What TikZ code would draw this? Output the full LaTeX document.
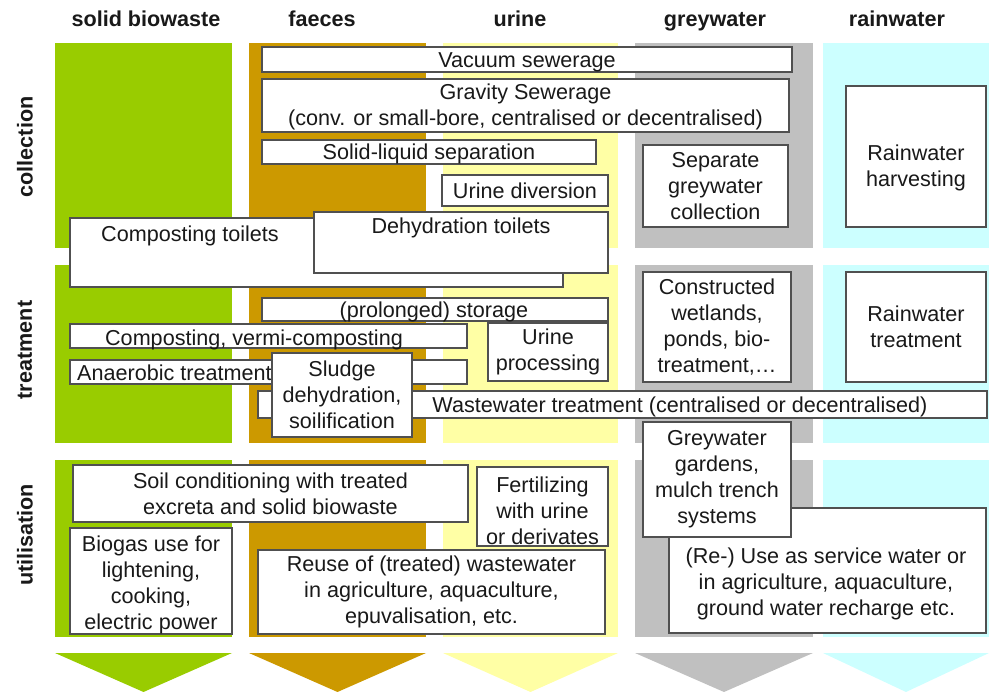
\documentclass[tikz,border=0pt]{standalone}
\usepackage{fontspec}
\setmainfont{Liberation Sans}
\definecolor{cgreen}{RGB}{153,204,0}
\definecolor{corange}{RGB}{204,153,0}
\definecolor{cyellow}{RGB}{255,255,165}
\definecolor{cgrey}{RGB}{192,192,192}
\definecolor{ccyan}{RGB}{204,255,255}
\definecolor{boxc}{RGB}{80,80,80}
\definecolor{txt}{RGB}{25,25,25}
\newcommand\bodyfont{\fontsize{21.6}{26}\selectfont}
\newcommand\headfont{\fontsize{21.6}{25}\selectfont\bfseries}
\tikzset{
  box/.style={draw=boxc, fill=white, line width=1.2pt, inner sep=0pt, align=center, font=\bodyfont, text=txt},
  oneline/.style={text height=16pt, text depth=0pt},
  txtonly/.style={inner sep=0pt, align=center, font=\bodyfont, text=txt},
  head/.style={inner sep=0pt, font=\headfont, text=txt, anchor=base},
  rowlab/.style={inner sep=0pt, font=\headfont, text=txt, rotate=90},
}
\begin{document}
\begin{tikzpicture}[x=1pt,y=-1pt]
\useasboundingbox (0,0) rectangle (989,692);
% column bands
\foreach \xa/\xb/\c in {55/232/cgreen,249/426/corange,443/618/cyellow,635/813/cgrey,823/989/ccyan}{
  \fill[\c] (\xa,43) rectangle (\xb,248);
  \fill[\c] (\xa,265) rectangle (\xb,443);
  \fill[\c] (\xa,460) rectangle (\xb,637);
  \fill[\c] (\xa,653) -- (\xb,653) -- ({(\xa+\xb)/2},692) -- cycle;
}
% headers
\node[head] (h1) at (146,27) {solid biowaste};
\node[head] (h2) at (322,27) {faeces};
\node[head] (h3) at (520,27) {urine};
\node[head] (h4) at (715,27) {greywater};
\node[head] (h5) at (897,27) {rainwater};
\node[rowlab] (r1) at (25,147) {collection};
\node[rowlab] (r2) at (25,350) {treatment};
\node[rowlab] (r3) at (25,535) {utilisation};
% collection
\node[box, oneline, minimum width=530pt, minimum height=25pt] (vac) at (527,59.5) {Vacuum sewerage};
\node[box, minimum width=527pt, minimum height=53pt] (grav) at (525.5,105.5) {};
\node[txtonly] (gravt) at (525.5,107) {Gravity Sewerage\\(conv. or small-bore, centralised or decentralised)};
\node[box, oneline, minimum width=334pt, minimum height=24pt] (sls) at (429,152) {Solid-liquid separation};
\node[box, oneline, minimum width=166pt, minimum height=31pt] (urdiv) at (525,190.5) {Urine diversion};
\node[box, minimum width=493pt, minimum height=69pt] (comptoil) at (316.5,252.5) {};
\node[txtonly, anchor=base] (comptoilt) at (190,242) {Composting toilets};
\node[box, minimum width=294pt, minimum height=61pt] (dehyd) at (461,242.5) {};
\node[txtonly, anchor=base] (dehydt) at (461,234) {Dehydration toilets};
\node[box, minimum width=145pt, minimum height=82pt] (sepgrey) at (715.5,186) {Separate\\greywater\\collection};
\node[box, minimum width=140pt, minimum height=141pt] (rainharv) at (916,156.5) {};
\node[txtonly] (rainharvt) at (916,168) {Rainwater\\harvesting};
% treatment
\node[box, minimum width=346pt, minimum height=23pt] (stor) at (435,309.5) {};
\node[txtonly, anchor=base] (stort) at (434,318) {(prolonged) storage};
\node[box, minimum width=397pt, minimum height=24pt] (vermi) at (268.5,336) {};
\node[txtonly, anchor=base] (vermit) at (254,346) {Composting, vermi-composting};
\node[box, minimum width=397pt, minimum height=24pt] (anaer) at (268.5,372) {};
\node[txtonly, anchor=base west] (anaert) at (77,381) {Anaerobic treatment};
\node[box, minimum width=120pt, minimum height=58pt] (urproc) at (548,352) {Urine\\processing};
\node[box, minimum width=148pt, minimum height=110pt] (wetl) at (717,327) {Constructed\\wetlands,\\ponds, bio-\\treatment,\dots};
\node[box, minimum width=140pt, minimum height=110pt] (raintr) at (916,327) {Rainwater\\treatment};
\node[box, minimum width=729pt, minimum height=27pt] (wwt) at (622.5,404.5) {};
\node[txtonly, anchor=base] (wwtt) at (680,413) {Wastewater treatment (centralised or decentralised)};
\node[box, minimum width=140pt, minimum height=84pt] (sludge) at (342,395) {Sludge\\dehydration,\\soilification};
% utilisation
\node[box, minimum width=395pt, minimum height=57pt] (soil) at (270.5,493.5) {Soil conditioning with treated\\excreta and solid biowaste};
\node[box, minimum width=162pt, minimum height=106pt] (biogas) at (151,581) {};
\node[txtonly] (biogast) at (151,585) {Biogas use for\\lightening,\\cooking,\\electric power};
\node[box, minimum width=347pt, minimum height=84pt] (reuse) at (431.5,592) {Reuse of (treated) wastewater\\in agriculture, aquaculture,\\epuvalisation, etc.};
\node[box, minimum width=131pt, minimum height=79pt] (fert) at (542.5,506.5) {};
\node[txtonly] (fertt) at (542.5,510.5) {Fertilizing\\with urine\\or derivates};
\node[box, minimum width=317pt, minimum height=125pt] (reusew) at (827.5,570.5) {};
\node[txtonly] (reusewt) at (826,584) {(Re-) Use as service water or\\in agriculture, aquaculture,\\ground water recharge etc.};
\node[box, minimum width=148pt, minimum height=115pt] (ggard) at (717,479.5) {Greywater\\gardens,\\mulch trench\\systems};
\end{tikzpicture}
\end{document}
